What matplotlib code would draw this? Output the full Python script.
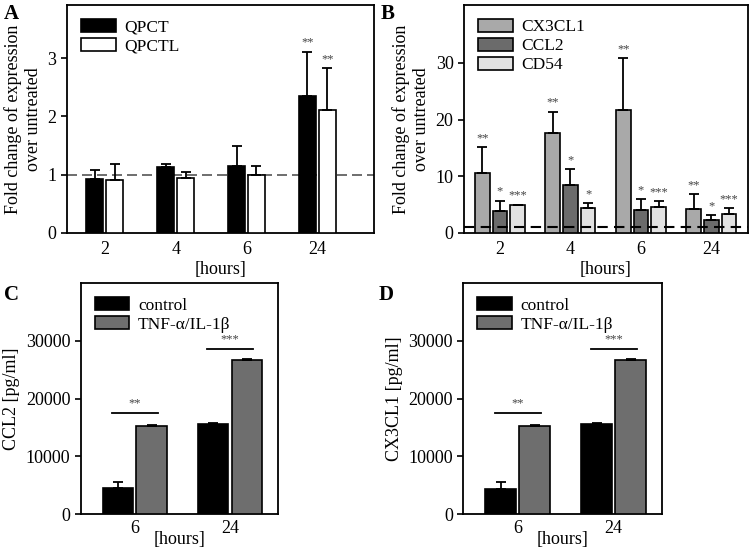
import numpy as np
import matplotlib
matplotlib.use("Agg")
import matplotlib.pyplot as plt

plt.rcParams["font.family"] = ["Liberation Serif", "DejaVu Serif"]
plt.rcParams["font.size"] = 12

# Panel A: qPCR fold change
hours_ab = ["2", "4", "6", "24"]
qpct = [0.93, 1.13, 1.15, 2.35]
qpct_sd = [0.15, 0.06, 0.34, 0.76]
qpctl = [0.91, 0.94, 0.99, 2.11]
qpctl_sd = [0.28, 0.11, 0.16, 0.72]
stars_a = [["", "", "", "**"], ["", "", "", "**"]]

# Panel B: inflammatory markers
cx3cl1 = [10.5, 17.6, 21.6, 4.3]
cx3cl1_sd = [4.6, 3.8, 9.2, 2.6]
ccl2 = [3.9, 8.5, 4.1, 2.2]
ccl2_sd = [1.8, 2.8, 1.8, 1.0]
cd54 = [4.9, 4.4, 4.5, 3.4]
cd54_sd = [0.1, 0.8, 1.1, 1.0]
stars_b = [["**", "**", "**", "**"], ["*", "*", "*", "*"], ["***", "*", "***", "***"]]

# Panels C and D: ELISA
hours_cd = ["6", "24"]
ccl2_ctrl = [4500, 15650]
ccl2_ctrl_sd = [1100, 180]
ccl2_tnf = [15200, 26650]
ccl2_tnf_sd = [280, 150]
cx3_ctrl = [4400, 15550]
cx3_ctrl_sd = [1100, 200]
cx3_tnf = [15200, 26650]
cx3_tnf_sd = [280, 150]
sig_cd = ["**", "***"]
sig_height = [17500, 28600]

fig = plt.figure(figsize=(7.5, 5.52), dpi=100)
axA = fig.add_axes([0.0893, 0.578, 0.4093, 0.413])
axB = fig.add_axes([0.6187, 0.578, 0.3787, 0.413])
axC = fig.add_axes([0.1076, 0.0688, 0.2627, 0.418])
axD = fig.add_axes([0.6177, 0.0688, 0.2645, 0.418])

err_kw = dict(ecolor="black", elinewidth=1.3, capsize=3.5, capthick=1.3)
leg_kw = dict(loc="upper left", frameon=False, fontsize=12.5, handlelength=2.0,
              handleheight=0.75, labelspacing=0.15, borderaxespad=0.4,
              handletextpad=0.5)


def style(ax):
    for s in ax.spines.values():
        s.set_linewidth(1.3)
    ax.tick_params(axis="y", direction="out", length=4, width=1.2, labelsize=13)
    ax.tick_params(axis="x", length=0, labelsize=13, pad=6)


def bars(ax, x, vals, sd, color, width):
    return ax.bar(x, vals, width, color=color, edgecolor="black", linewidth=1.2,
                  yerr=[np.zeros(len(vals)), sd], error_kw=err_kw, zorder=3)


# ---- A
x = np.arange(4)
w = 0.24
hA1 = bars(axA, x - 0.14, qpct, qpct_sd, "black", w)
hA2 = bars(axA, x + 0.14, qpctl, qpctl_sd, "white", w)
axA.axhline(1, color="#555555", ls=(0, (6, 3)), lw=1.2, zorder=2)
for i, (vals, sd, off) in enumerate([(qpct, qpct_sd, -0.14), (qpctl, qpctl_sd, 0.14)]):
    for j in range(4):
        if stars_a[i][j]:
            axA.text(x[j] + off, vals[j] + sd[j] + 0.05, stars_a[i][j], ha="center",
                     va="bottom", fontsize=9, color="#444444")
axA.set_xlim(-0.535, 3.8)
axA.set_ylim(0, 3.91)
axA.set_yticks([0, 1, 2, 3])
axA.set_xticks(x)
axA.set_xticklabels(hours_ab)
axA.set_xlabel("[hours]", fontsize=13, labelpad=2)
axA.set_ylabel("Fold change of expression\nover untreated", fontsize=13)
style(axA)
axA.legend([hA1, hA2], ["QPCT", "QPCTL"], **leg_kw)
fig.text(0.005, 0.975, "A", fontsize=15, fontweight="bold", va="center")

# ---- B
wb = 0.21
colors_b = ["#a9a9a9", "#6b6b6b", "#e2e2e2"]
series_b = [(cx3cl1, cx3cl1_sd), (ccl2, ccl2_sd), (cd54, cd54_sd)]
offs = [-0.25, 0.0, 0.25]
hB = []
for k, ((vals, sd), c, off) in enumerate(zip(series_b, colors_b, offs)):
    hB.append(bars(axB, x + off, vals, sd, c, wb))
    for j in range(4):
        axB.text(x[j] + off, vals[j] + sd[j] + 0.5, stars_b[k][j], ha="center",
                 va="bottom", fontsize=9, color="#444444")
axB.axhline(1, color="black", ls=(0, (5, 3)), lw=1.5, zorder=4)
axB.set_xlim(-0.51, 3.52)
axB.set_ylim(0, 40.2)
axB.set_yticks([0, 10, 20, 30])
axB.set_xticks(x)
axB.set_xticklabels(hours_ab)
axB.set_xlabel("[hours]", fontsize=13, labelpad=2)
axB.set_ylabel("Fold change of expression\nover untreated", fontsize=13)
style(axB)
axB.legend(hB, ["CX3CL1", "CCL2", "CD54"], **leg_kw)
fig.text(0.507, 0.975, "B", fontsize=15, fontweight="bold", va="center")


# ---- C and D
def elisa(ax, ctrl, ctrl_sd, tnf, tnf_sd, ylabel):
    xc = np.arange(2)
    wc = 0.32
    h1 = bars(ax, xc - 0.178, ctrl, ctrl_sd, "black", wc)
    h2 = bars(ax, xc + 0.178, tnf, tnf_sd, "#6e6e6e", wc)
    for j in range(2):
        ax.plot([xc[j] - 0.24, xc[j] + 0.24], [sig_height[j]] * 2, color="black", lw=1.3)
        ax.text(xc[j], sig_height[j] + 600, sig_cd[j], ha="center", va="bottom",
                fontsize=9, color="#444444")
    ax.set_xlim(-0.567, 1.5)
    ax.set_ylim(0, 40000)
    ax.set_yticks([0, 10000, 20000, 30000])
    ax.set_xticks(xc)
    ax.set_xticklabels(hours_cd)
    ax.set_xlabel("[hours]", fontsize=13, labelpad=-4)
    ax.set_ylabel(ylabel, fontsize=13)
    style(ax)
    ax.tick_params(axis="x", pad=4)
    ax.legend([h1, h2], ["control", "TNF-α/IL-1β"], **leg_kw)


elisa(axC, ccl2_ctrl, ccl2_ctrl_sd, ccl2_tnf, ccl2_tnf_sd, "CCL2 [pg/ml]")
elisa(axD, cx3_ctrl, cx3_ctrl_sd, cx3_tnf, cx3_tnf_sd, "CX3CL1 [pg/ml]")
fig.text(0.005, 0.465, "C", fontsize=15, fontweight="bold", va="center")
fig.text(0.505, 0.465, "D", fontsize=15, fontweight="bold", va="center")

fig.savefig("out.png", dpi=100)
